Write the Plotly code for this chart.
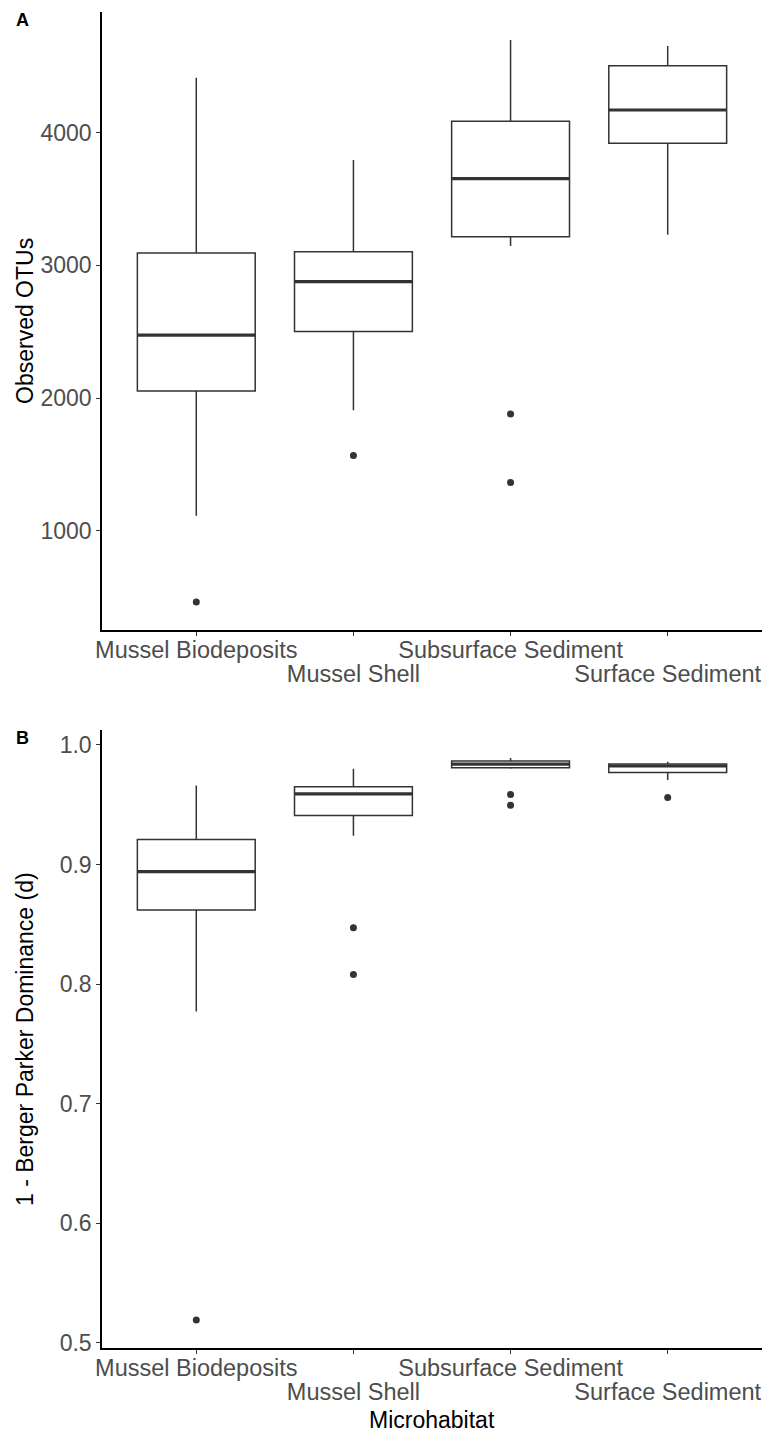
import plotly.graph_objects as go

# ---------------- data ----------------
categories = ["Mussel Biodeposits", "Mussel Shell", "Subsurface Sediment", "Surface Sediment"]

# Panel A: Observed OTUs
otu_lower = [1113, 1907, 3145, 3230]
otu_q1 = [2053, 2502, 3215, 3920]
otu_median = [2474, 2878, 3654, 4171]
otu_q3 = [3094, 3102, 4086, 4505]
otu_upper = [4414, 3794, 4698, 4653]
otu_outlier_cat = [0, 1, 2, 2]
otu_outlier_val = [463, 1566, 1880, 1363]
otu_ticks = [1000, 2000, 3000, 4000]

# Panel B: 1 - Berger Parker Dominance
bp_lower = [0.777, 0.924, 0.980, 0.9707]
bp_q1 = [0.862, 0.941, 0.981, 0.977]
bp_median = [0.894, 0.959, 0.984, 0.9824]
bp_q3 = [0.921, 0.965, 0.9866, 0.984]
bp_upper = [0.966, 0.980, 0.989, 0.986]
bp_outlier_cat = [0, 1, 1, 2, 2, 3]
bp_outlier_val = [0.519, 0.847, 0.808, 0.9585, 0.9495, 0.956]
bp_ticks = [0.5, 0.6, 0.7, 0.8, 0.9, 1.0]

# ---------------- styling ----------------
FONT = "Liberation Sans, Arial, sans-serif"
LINE = "#333333"
TICKTXT = "#4D4D4D"
BOXW = 0.75
W, H = 766, 1433
ML, MR, MT, MB = 102, 4, 12, 85
plot_h = H - MT - MB
domA = [(1348 - 630) / plot_h, 1.0]
domB = [0.0, (1348 - 730) / plot_h]

pos = [i + 1 for i in range(len(categories))]


def rng(vals):
    lo, hi = min(vals), max(vals)
    pad = (hi - lo) * 0.05
    return [lo - pad, hi + pad]


fig = go.Figure()


def add_panel(xa, ya, xo, lower, q1, med, q3, upper, out_cat, out_val):
    fig.add_trace(go.Box(
        x=pos, q1=q1, median=med, q3=q3, lowerfence=lower, upperfence=upper,
        width=BOXW, fillcolor="white", line=dict(color=LINE, width=1.5),
        whiskerwidth=0, boxpoints=False, showlegend=False,
        xaxis=xa, yaxis=ya, hoverinfo="skip",
    ))
    fig.add_trace(go.Scatter(
        x=[pos[c] for c in out_cat], y=out_val, mode="markers",
        marker=dict(color=LINE, size=7), showlegend=False,
        xaxis=xa, yaxis=ya, hoverinfo="skip",
    ))
    mx, my = [], []
    for p, m in zip(pos, med):
        mx += [p - BOXW / 2, p + BOXW / 2, None]
        my += [m, m, None]
    fig.add_trace(go.Scatter(
        x=mx, y=my, mode="lines", line=dict(color=LINE, width=3.2),
        showlegend=False, xaxis=xo, yaxis=ya, hoverinfo="skip",
    ))


add_panel("x", "y", "x3", otu_lower, otu_q1, otu_median, otu_q3, otu_upper,
          otu_outlier_cat, otu_outlier_val)
add_panel("x2", "y2", "x4", bp_lower, bp_q1, bp_median, bp_q3, bp_upper,
          bp_outlier_cat, bp_outlier_val)

xrange = [0.4, len(categories) + 0.6]
ticktext_row1 = [c if i % 2 == 0 else "" for i, c in enumerate(categories)]
row2_vals = [p for i, p in enumerate(pos) if i % 2 == 1]
row2_text = [c for i, c in enumerate(categories) if i % 2 == 1]

base_x = dict(range=xrange, showgrid=False, zeroline=False, fixedrange=True,
              tickfont=dict(family=FONT, size=23.5, color=TICKTXT))
main_x = dict(base_x, tickmode="array", tickvals=pos, ticktext=ticktext_row1,
              showline=True, linecolor="black", linewidth=1.5,
              ticks="outside", ticklen=4, tickcolor=LINE, tickwidth=1.2,
              ticklabelstandoff=-6)
over_x = dict(base_x, tickmode="array", tickvals=row2_vals, ticktext=row2_text,
              showline=False, ticks="outside", ticklen=4,
              tickcolor="rgba(0,0,0,0)", ticklabelstandoff=19)

base_y = dict(showgrid=False, zeroline=False, showline=True, linecolor="black",
              linewidth=1.5, ticks="outside", ticklen=4, tickcolor=LINE,
              tickwidth=1.2, tickfont=dict(family=FONT, size=23, color=TICKTXT),
              fixedrange=True)

otu_all = otu_lower + otu_upper + otu_outlier_val
bp_all = bp_lower + bp_upper + bp_outlier_val

fig.update_layout(
    width=W, height=H,
    margin=dict(l=ML, r=MR, t=MT, b=MB),
    paper_bgcolor="white", plot_bgcolor="white",
    font=dict(family=FONT, color="black"),
    boxmode="overlay",
    xaxis=dict(main_x, domain=[0, 1], anchor="y"),
    xaxis3=dict(over_x, overlaying="x", anchor="y"),
    yaxis=dict(base_y, domain=domA, anchor="x", range=rng(otu_all),
               tickmode="array", tickvals=otu_ticks,
               ticktext=[str(t) for t in otu_ticks]),
    xaxis2=dict(main_x, domain=[0, 1], anchor="y2"),
    xaxis4=dict(over_x, overlaying="x2", anchor="y2"),
    yaxis2=dict(base_y, domain=domB, anchor="x2", range=rng(bp_all),
                tickmode="array", tickvals=bp_ticks,
                ticktext=[f"{t:.1f}" for t in bp_ticks]),
)

pw = W - ML - MR


def px_x(px):
    return (px - ML) / pw


def px_y(py):
    return (H - MB - py) / plot_h


ann = [
    dict(text="<b>A</b>", x=px_x(22), y=px_y(20), font=dict(size=18)),
    dict(text="<b>B</b>", x=px_x(22), y=px_y(738), font=dict(size=18)),
    dict(text="Observed OTUs", x=px_x(25), y=sum(domA) / 2, textangle=-90,
         font=dict(size=23)),
    dict(text="1 - Berger Parker Dominance (d)", x=px_x(25), y=sum(domB) / 2,
         textangle=-90, font=dict(size=23)),
    dict(text="Microhabitat", x=0.5, y=px_y(1420), font=dict(size=23)),
]
for a in ann:
    a.update(xref="paper", yref="paper", xanchor="center", yanchor="middle",
             showarrow=False)
    a["font"] = dict(family=FONT, color="black", **a["font"])
fig.update_layout(annotations=ann)

fig.write_html(
    "out.html",
    config={"displayModeBar": False},
    post_script="document.body.style.margin='0';document.body.style.padding='0';",
)
